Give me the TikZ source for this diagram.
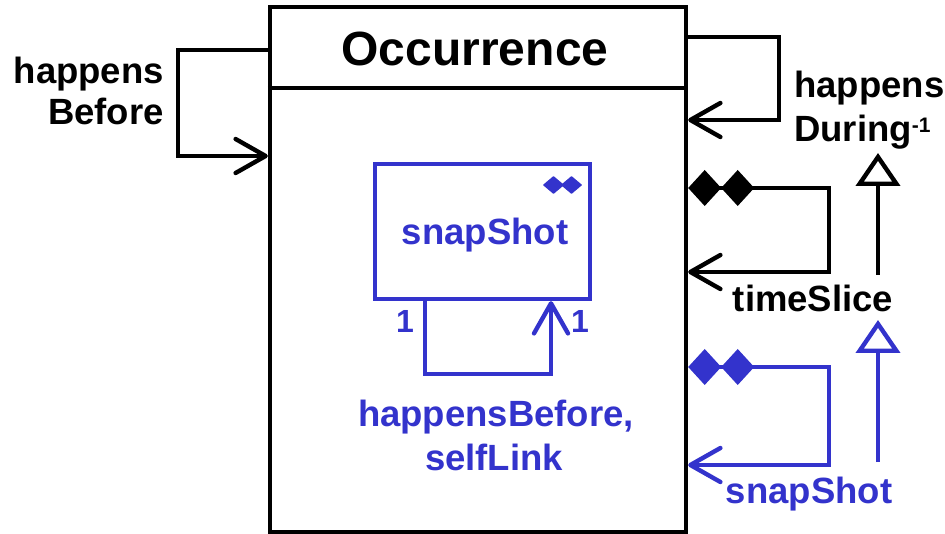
\documentclass[tikz,border=0pt]{standalone}
\usepackage{fontspec}
\setmainfont{Liberation Sans}
\usetikzlibrary{arrows.meta,calc}
\definecolor{umlblue}{RGB}{51,51,204}
\begin{document}
\begin{tikzpicture}[x=1pt,y=-1pt, line width=4.4pt,
  lbl/.style={font=\fontsize{36.5}{40}\selectfont\bfseries, inner sep=0pt},
  mult/.style={font=\fontsize{32}{34}\selectfont\bfseries, inner sep=0pt, text=umlblue},
  assoc/.style={line join=miter, -{Straight Barb[length=30pt,width=34pt,round]}},
  comp/.style={line join=miter, {Diamond[length=33pt,width=36pt]Diamond[length=33pt,width=36pt]}-{Straight Barb[length=30pt,width=34pt,round]}},
  gen/.style={-{Triangle[open,length=33pt,width=44pt,fill=white]}},
]
\useasboundingbox (0,0) rectangle (945,534);
% main class box
\node[draw, minimum width=416pt, minimum height=525pt, inner sep=0pt] (occ) at (478,269.5) {};
\draw (occ.west |- 0,88) -- (occ.east |- 0,88);
\node[font=\fontsize{48}{52}\selectfont\bfseries, inner sep=0pt, anchor=base] (title) at (475,66) {Occurrence};

% happensBefore (left)
\draw[assoc] (occ.west |- 0,50) -| (178,156) -- (occ.west |- 0,156);
\node[lbl, anchor=base east] (hb1) at (166,84) {happens};
\node[lbl, anchor=base east] (hb2) at (166,125) {Before};

% happensDuring^-1 (right top)
\draw[assoc] (occ.east |- 0,37) -| (779,120) -- (occ.east |- 0,120);
\node[lbl, anchor=base west] (hd1) at (792,98) {happens};
\node[lbl, anchor=base west] (hd2) at (792,142) {During\raisebox{9pt}{\fontsize{21}{21}\selectfont -1}};

% timeSlice
\draw[comp] (occ.east |- 0,188) -| (829,272) -- (occ.east |- 0,272);
\node[lbl, anchor=base] (ts) at (813,312) {timeSlice};
\coordinate (g1s) at (878,275);
\coordinate (g1e) at (878,153);
\draw[gen] (g1s) -- (g1e);

% snapShot (right bottom, blue)
\begin{scope}[umlblue]
\draw[comp] (occ.east |- 0,367) -| (829,465) -- (occ.east |- 0,465);
\node[lbl, anchor=base, text=umlblue] (ss) at (809,503) {snapShot};
\coordinate (g2s) at (878,462);
\coordinate (g2e) at (878,320);
\draw[gen] (g2s) -- (g2e);

% inner snapShot box
\node[draw, minimum width=215pt, minimum height=135pt, inner sep=0pt] (snap) at (482.5,231.5) {};
\node[lbl, anchor=base, text=umlblue] (snapt) at (485,245) {snapShot};
\filldraw[line width=1.5pt, line join=round] (544,185) -- (553.5,177) -- (563,185) -- (553.5,193) -- cycle;
\filldraw[line width=1.5pt, line join=round] (562,185) -- (571.5,177) -- (581,185) -- (571.5,193) -- cycle;
\draw[assoc] (snap.south -| 425,0) -- (425,374) -| (snap.south -| 551,0);
\node[mult, anchor=base] (m1) at (405,333) {1};
\node[mult, anchor=base] (m2) at (580,333) {1};
\node[lbl, anchor=base, text=umlblue] (hbs1) at (496,426) {happensBefore,};
\node[lbl, anchor=base, text=umlblue] (hbs2) at (494,470) {selfLink};
\end{scope}
\end{tikzpicture}
\end{document}
